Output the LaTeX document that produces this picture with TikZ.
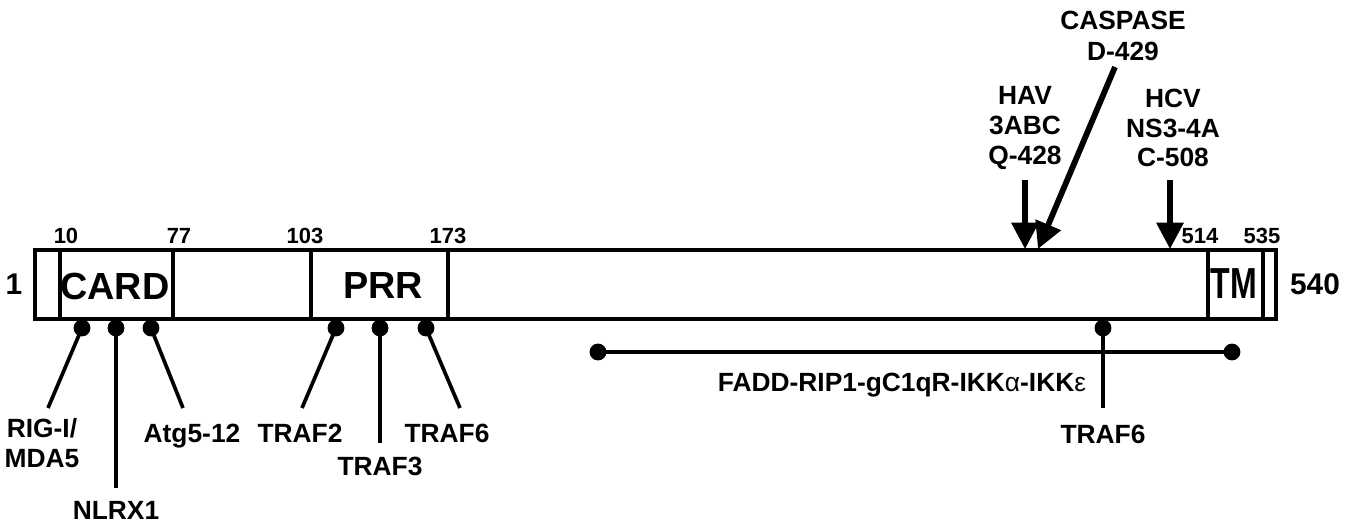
\documentclass[tikz,border=0pt]{standalone}
\usepackage{fontspec}
\setmainfont{Liberation Sans}
\usetikzlibrary{arrows.meta}
\begin{document}
\begin{tikzpicture}[x=0.02cm,y=-0.02cm,
  boxline/.style={line width=2.3pt},
  conn/.style={line width=2.1pt},
  dot/.style={fill=black},
  num/.style={font=\bfseries\fontsize{12.5}{13}\selectfont, inner sep=0pt},
  big/.style={font=\bfseries\fontsize{17}{18}\selectfont, inner sep=0pt},
  lab/.style={font=\bfseries\fontsize{15}{17}\selectfont, inner sep=0pt, align=center},
  dom/.style={font=\bfseries\fontsize{21.5}{22}\selectfont, inner sep=0pt},
  cut/.style={line width=3pt, -{Triangle[length=15pt,width=15pt]}},
  cutc/.style={line width=3.3pt, -{Triangle[length=15pt,width=15pt]}}]
\useasboundingbox (0,0) rectangle (1356,527);
% main box
\draw[boxline] (35,250) rectangle (1276,319);
\foreach \xx in {60,173,311,448,1208,1263}{\draw[boxline] (\xx,250) -- (\xx,319);}
% domain names
\node[dom] (card) at (115,286) {CARD};
\node[dom] (prr) at (383,286) {PRR};
\node[dom,xscale=0.85,yscale=1.15] (tm) at (1234,284) {TM};
% residue numbers
\node[num] (n10) at (66,236) {10};
\node[num] (n77) at (179,236) {77};
\node[num] (n103) at (305,236) {103};
\node[num] (n173) at (448,236) {173};
\node[num] (n514) at (1200,236) {514};
\node[num] (n535) at (1262,236) {535};
\node[big] (n1) at (14,284) {1};
\node[big] (n540) at (1315,284) {540};
% binding dots
\foreach \nm/\xx in {d1/82,d2/116,d3/151,d4/336,d5/380,d6/426,d7/1103}{
  \coordinate (\nm) at (\xx,328);
  \fill[dot] (\nm) circle (4.8pt);}
% end points
\coordinate (e1) at (48,408);
\coordinate (e2) at (116,488);
\coordinate (e3) at (183,408);
\coordinate (e4) at (302,408);
\coordinate (e5) at (380,443);
\coordinate (e6) at (460,408);
\coordinate (e7) at (1103,408);
\foreach \i in {1,...,7}{\draw[conn] (d\i) -- (e\i);}
% labels
\node[lab] (rig) at (42,443) {RIG-I/\\MDA5};
\node[lab] (nlrx) at (116,510) {NLRX1};
\node[lab,anchor=base] (atg) at (192,442) {Atg5-12};
\node[lab,anchor=base] (traf2) at (300,442) {TRAF2};
\node[lab] (traf3) at (380,466) {TRAF3};
\node[lab,anchor=base] (traf6a) at (447,442) {TRAF6};
\node[lab] (traf6b) at (1103,434) {TRAF6};
% FADD bar
\coordinate (fl) at (598,352);
\coordinate (fr) at (1232,352);
\draw[conn] (fl) -- (fr);
\fill[dot] (fl) circle (4.8pt);
\fill[dot] (fr) circle (4.8pt);
\node[lab] (fadd) at (902,385) {FADD-RIP1-gC1qR-IKK\textmd{α}-IKK\textmd{ε}};
% cleavage arrows
\node[lab,align=center] (cas) at (1123,36) {CASPASE\\[1pt]D-429};
\node[lab] (hav) at (1025,128) {HAV\\3ABC\\Q-428};
\node[lab] (hcv) at (1173,128) {HCV\\NS3-4A\\C-508};
\coordinate (havs) at (1025,180);
\coordinate (havt) at (1025,249);
\coordinate (cass) at (1115,67);
\coordinate (cast) at (1038,249);
\coordinate (hcvs) at (1170,180);
\coordinate (hcvt) at (1170,249);
\draw[cut] (havs) -- (havt);
\draw[cutc] (cass) -- (cast);
\draw[cut] (hcvs) -- (hcvt);
\end{tikzpicture}
\end{document}
